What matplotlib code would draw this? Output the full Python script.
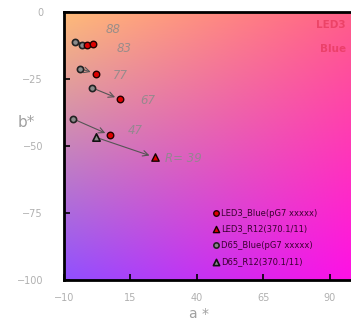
import numpy as np
import matplotlib.pyplot as plt
from matplotlib.colors import to_rgb

# chromaticity points (a*, b*)
led3_circ_a = [-1.2, 0.8, 2.1, 11.2, 7.5]
led3_circ_b = [-12.3, -11.8, -23.0, -32.6, -46.0]
d65_circ_a = [-5.8, -3.0, -4.1, 0.6, -6.7]
d65_circ_b = [-11.3, -12.4, -21.1, -28.3, -39.8]
led3_tri_a = [24.2]
led3_tri_b = [-54.2]
d65_tri_a = [1.9]
d65_tri_b = [-46.7]

pair_labels = ["88", "83", "77", "67", "47", "R= 39"]
label_a = [5.8, 9.9, 8.4, 18.6, 14.0, 28.0]
label_b = [-6.7, -13.5, -23.6, -33.0, -44.2, -54.7]

legend_labels = ["LED3_Blue(pG7 xxxxx)", "LED3_R12(370.1/11)",
                 "D65_Blue(pG7 xxxxx)", "D65_R12(370.1/11)"]

xticks = [-10, 15, 40, 65, 90]
yticks = [0, -25, -50, -75, -100]

fig = plt.figure(figsize=(3.51, 3.22), dpi=100)
ax = fig.add_axes([0.182, 0.13, 0.818, 0.833])
xmin, xmax, ymin, ymax = -10, 98, -100, 0

# colour background: bilinear blend of four corner colours
tl, tr = np.array(to_rgb("#ffbb78")), np.array(to_rgb("#ff5f88"))
bl, br = np.array(to_rgb("#9050ff")), np.array(to_rgb("#ff10e6"))
u = np.linspace(0, 1, 200)[None, :, None]
v = np.linspace(0, 1, 200)[:, None, None]
img = (1 - v) * ((1 - u) * tl + u * tr) + v * ((1 - u) * bl + u * br)
ax.imshow(img, extent=[xmin, xmax, ymin, ymax], aspect="auto", origin="upper", zorder=0)

# arrows from D65 to LED3
for x0, y0, x1, y1 in zip(d65_circ_a + d65_tri_a, d65_circ_b + d65_tri_b,
                          led3_circ_a + led3_tri_a, led3_circ_b + led3_tri_b):
    ax.annotate("", xy=(x1, y1), xytext=(x0, y0),
                arrowprops=dict(arrowstyle="->", color="#555555", lw=0.8,
                                shrinkA=3, shrinkB=4), zorder=2)

ax.scatter(d65_circ_a, d65_circ_b, s=20, c="#8a8a8a", edgecolors="#222222", linewidths=1.2,
           marker="o", zorder=3, label=legend_labels[2])
ax.scatter(d65_tri_a, d65_tri_b, s=28, c="#8a8a8a", edgecolors="#111111", linewidths=1.2,
           marker="^", zorder=3, label=legend_labels[3])
ax.scatter(led3_circ_a, led3_circ_b, s=22, c="#dd0000", edgecolors="#220000", linewidths=1.0,
           marker="o", zorder=4, label=legend_labels[0])
ax.scatter(led3_tri_a, led3_tri_b, s=28, c="#dd0000", edgecolors="#110000", linewidths=1.0,
           marker="^", zorder=4, label=legend_labels[1])

for t, x, y in zip(pair_labels, label_a, label_b):
    ax.text(x, y, t, fontsize=8.5, style="italic", color="#8a8a8a", alpha=0.85,
            ha="left", va="center", zorder=5)

ax.text(96, -5, "LED3", fontsize=7.5, color="#e03050", alpha=0.6, ha="right", va="center",
        fontweight="bold")
ax.text(96, -14, "Blue", fontsize=7.5, color="#e03050", alpha=0.6, ha="right", va="center",
        fontweight="bold")

handles, labels = ax.get_legend_handles_labels()
order = [2, 3, 0, 1]
leg = ax.legend([handles[i] for i in order], [labels[i] for i in order],
                loc="lower left", bbox_to_anchor=(0.5, 0.035), frameon=False,
                fontsize=6, handletextpad=0.1, labelspacing=0.85, borderaxespad=0.2,
                markerscale=0.85, handlelength=0.9)
for txt in leg.get_texts():
    txt.set_color("#3a0030")

ax.set_xlim(xmin, xmax)
ax.set_ylim(ymin, ymax)
ax.set_xticks(xticks)
ax.set_yticks(yticks)
ax.tick_params(direction="in", length=4, width=1.2, colors="black",
               labelcolor="#b0b0b0", labelsize=7)
ax.tick_params(axis="x", pad=9)
ax.tick_params(axis="y", pad=15)
for side in ["left", "bottom", "top"]:
    ax.spines[side].set_linewidth(2)
    ax.spines[side].set_color("black")
ax.spines["right"].set_visible(False)

ax.set_xlabel("a *", fontsize=10, color="#a0a0a0")
ax.set_ylabel("b*", fontsize=11, color="#a0a0a0", rotation=0)
ax.xaxis.set_label_coords(0.47, -0.1)
ax.yaxis.set_label_coords(-0.13, 0.56)

fig.savefig("out.png", dpi=100)
